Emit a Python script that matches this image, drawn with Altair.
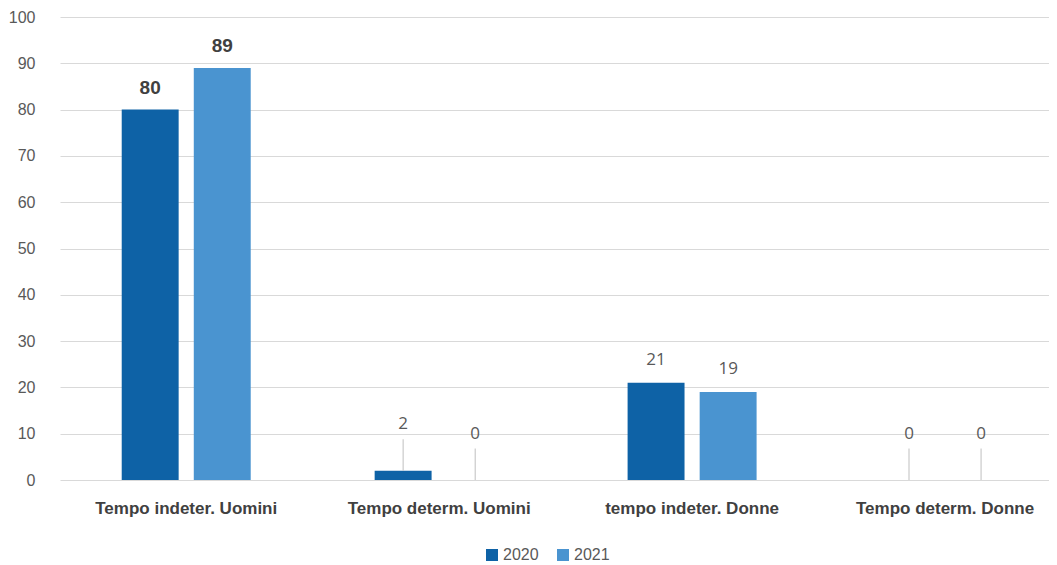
import altair as alt
import pandas as pd

categories = ["Tempo indeter. Uomini", "Tempo determ. Uomini", "tempo indeter. Donne", "Tempo determ. Donne"]
years = ["2020", "2021"]
values_2020 = [80, 2, 21, 0]
values_2021 = [89, 0, 19, 0]
y_ticks = [0, 10, 20, 30, 40, 50, 60, 70, 80, 90, 100]

colors = ["#0E62A6", "#4A94D0"]
FONT = "Liberation Sans"

rows = []
for yr, vals in zip(years, [values_2020, values_2021]):
    for c, v in zip(categories, vals):
        rows.append({"category": c, "year": yr, "value": v})
df = pd.DataFrame(rows)

x_enc = alt.X(
    "category:N", sort=categories,
    scale=alt.Scale(paddingInner=0.49, paddingOuter=0.2, align=0.61),
    axis=alt.Axis(title=None, labelAngle=0, ticks=False, domain=False,
                  labelFont=FONT, labelFontSize=17, labelFontWeight="bold",
                  labelColor="#404040", labelPadding=20, labelLimit=400),
)
xoff = alt.XOffset("year:N", sort=years, scale=alt.Scale(paddingInner=0.21, paddingOuter=0))
yscale = alt.Scale(domain=[0, 100])

base = alt.Chart(df).encode(x=x_enc, xOffset=xoff)

bars = base.mark_bar().encode(
    y=alt.Y("value:Q", scale=yscale, title=None,
            axis=alt.Axis(values=y_ticks, title=None, ticks=False, domain=False,
                          labelPadding=25, gridColor="#D9D9D9", labelFont=FONT,
                          labelFontSize=16, labelColor="#595959")),
    color=alt.Color("year:N", scale=alt.Scale(domain=years, range=colors),
                    legend=alt.Legend(title=None, orient="none", legendX=424, legendY=530,
                                      direction="horizontal", symbolType="square",
                                      symbolSize=144, symbolStrokeWidth=0,
                                      labelFont=FONT, labelFontSize=16, labelColor="#595959",
                                      columnPadding=16, labelOffset=3)),
)

calc = base.transform_calculate(
    label_y="datum.value < 5 ? datum.value + 10 : datum.value",
    line_top="datum.value + 6.8",
)

bold_labels = calc.transform_filter(
    alt.datum.category == categories[0]
).mark_text(dy=-22, font=FONT, fontSize=19, fontWeight="bold", color="#404040").encode(
    y=alt.Y("value:Q", scale=yscale, title=None), text="value:Q"
)

normal_labels = calc.transform_filter(
    (alt.datum.category != categories[0]) & (alt.datum.value >= 5)
).mark_text(dy=-23, font="Open Sans", fontSize=17, color="#595959").encode(
    y=alt.Y("value:Q", scale=yscale, title=None), text="value:Q"
)

small_labels = calc.transform_filter(
    alt.datum.value < 5
).mark_text(font="Open Sans", fontSize=17, color="#595959").encode(
    y=alt.Y("label_y:Q", scale=yscale, title=None), text="value:Q"
)

leaders = calc.transform_filter(
    alt.datum.value < 5
).mark_rule(color="#BFBFBF", strokeWidth=1).encode(
    y=alt.Y("value:Q", scale=yscale, title=None), y2="line_top:Q"
)

chart = alt.layer(bars, leaders, bold_labels, normal_labels, small_labels).properties(
    width=989, height=463,
    background="white",
    autosize=alt.AutoSizeParams(type="none"),
    padding={"left": 52, "top": 9, "right": 0, "bottom": 84},
).configure_view(stroke=None)

chart.save("out.html", embed_options={"renderer": "svg", "actions": False})
